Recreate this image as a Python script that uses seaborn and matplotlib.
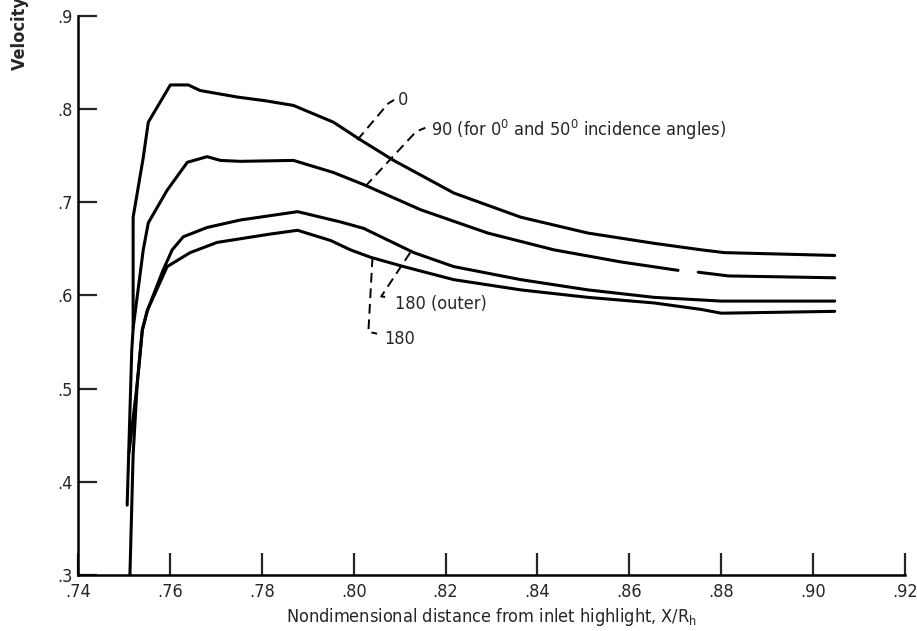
import matplotlib
matplotlib.use("Agg")
import matplotlib.pyplot as plt
from matplotlib import font_manager
import numpy as np
import pandas as pd
import seaborn as sns

# surface velocity ratio vs. X/Rh, one list pair per circumferential position
x_0 = [0.7507, 0.7517, 0.7520, 0.7520, 0.7542, 0.7553, 0.7601, 0.7640, 0.7666, 0.7747,
       0.7808, 0.7869, 0.7956, 0.8015, 0.8087, 0.8218, 0.8364, 0.8510, 0.8654, 0.8757,
       0.8807, 0.9047]
v_0 = [0.375, 0.541, 0.565, 0.684, 0.748, 0.786, 0.826, 0.826, 0.820, 0.813,
       0.809, 0.804, 0.786, 0.767, 0.745, 0.710, 0.684, 0.667, 0.656, 0.649,
       0.646, 0.643]

# nan marks the break in the printed 90 deg curve
x_90 = [0.7520, 0.7542, 0.7553, 0.7594, 0.7638, 0.7681, 0.7710, 0.7753, 0.7869, 0.7956,
        0.8022, 0.8146, 0.8292, 0.8436, 0.8582, 0.8706, np.nan, 0.8750, 0.8816, 0.9047]
v_90 = [0.565, 0.649, 0.678, 0.713, 0.743, 0.749, 0.745, 0.744, 0.745, 0.732,
        0.719, 0.692, 0.667, 0.649, 0.636, 0.627, np.nan, 0.625, 0.621, 0.619]

x_180o = [0.7511, 0.7529, 0.7540, 0.7551, 0.7585, 0.7605, 0.7629, 0.7681, 0.7753, 0.7878,
          0.7971, 0.8022, 0.8131, 0.8218, 0.8364, 0.8510, 0.8654, 0.8800, 0.9047]
v_180o = [0.431, 0.506, 0.563, 0.584, 0.627, 0.649, 0.663, 0.673, 0.681, 0.690,
          0.679, 0.672, 0.646, 0.631, 0.617, 0.606, 0.598, 0.594, 0.594]

x_180 = [0.7513, 0.7520, 0.7529, 0.7540, 0.7551, 0.7594, 0.7644, 0.7703, 0.7819, 0.7878,
         0.7950, 0.7993, 0.8037, 0.8109, 0.8218, 0.8364, 0.8510, 0.8654, 0.8757, 0.8800,
         0.9047]
v_180 = [0.300, 0.429, 0.506, 0.563, 0.584, 0.631, 0.646, 0.657, 0.666, 0.670,
         0.659, 0.649, 0.641, 0.631, 0.617, 0.606, 0.598, 0.592, 0.585, 0.581,
         0.583]

x_ticks = [0.74, 0.76, 0.78, 0.80, 0.82, 0.84, 0.86, 0.88, 0.90, 0.92]
x_ticklabels = [".74", ".76", ".78", ".80", ".82", ".84", ".86", ".88", ".90", ".92"]
y_ticks = [0.3, 0.4, 0.5, 0.6, 0.7, 0.8, 0.9]
y_ticklabels = [".3", ".4", ".5", ".6", ".7", ".8", ".9"]

# curve labels: text, leader path (data coords), text anchor
labels = ["0",
          r"90 (for 0$^\mathregular{0}$ and 50$^\mathregular{0}$ incidence angles)",
          "180 (outer)",
          "180"]
leaders = [[(0.8008, 0.767), (0.8075, 0.806), (0.8088, 0.810)],
           [(0.8025, 0.717), (0.8136, 0.776), (0.8156, 0.780)],
           [(0.8123, 0.646), (0.8060, 0.599), (0.8075, 0.598)],
           [(0.8041, 0.641), (0.8032, 0.561), (0.8051, 0.559)]]
label_pos = [(0.8097, 0.810), (0.8169, 0.7775), (0.8091, 0.5908), (0.8067, 0.5532)]


def build_frame():
    rows = []
    for name, xs, vs in [("0", x_0, v_0), ("90", x_90, v_90),
                         ("180 outer", x_180o, v_180o), ("180", x_180, v_180)]:
        seg = 0
        for xv, yv in zip(xs, vs):
            if np.isnan(xv):
                seg += 1
                continue
            rows.append({"x": xv, "v": yv, "line": "{}_{}".format(name, seg)})
    return pd.DataFrame(rows)


def main():
    sns.set_style("ticks")
    names = set(f.name for f in font_manager.fontManager.ttflist)
    narrow = [n for n in ["Liberation Sans Narrow", "Arial Narrow"] if n in names]
    plt.rcParams["font.family"] = narrow + ["DejaVu Sans"]
    plt.rcParams["font.stretch"] = "condensed"
    plt.rcParams["mathtext.default"] = "regular"
    print(sorted(names))

    df = build_frame()

    fig = plt.figure(figsize=(9.17, 6.31), dpi=100)
    ax = fig.add_axes([78 / 917, 1 - 575 / 631, (905 - 78) / 917, (575 - 16) / 631])

    sns.lineplot(data=df, x="x", y="v", units="line", estimator=None, sort=False,
                 color="black", linewidth=2.2, ax=ax, legend=False)

    for (txt, path, pos) in zip(labels, leaders, label_pos):
        px, py = zip(*path)
        ax.plot(px, py, color="black", linewidth=1.4, linestyle=(0, (5, 3)))
        ax.text(pos[0], pos[1], txt, fontsize=13, ha="left", va="center")

    ax.set_xlim(0.74, 0.92)
    ax.set_ylim(0.3, 0.9)
    ax.set_xticks(x_ticks)
    ax.set_xticklabels(x_ticklabels)
    ax.set_yticks(y_ticks)
    ax.set_yticklabels(y_ticklabels)
    ax.tick_params(axis="x", direction="in", length=16, width=1.6, pad=6, labelsize=13)
    ax.tick_params(axis="y", direction="in", length=14, width=1.6, pad=4, labelsize=13)

    sns.despine(ax=ax)
    for side in ["left", "bottom"]:
        ax.spines[side].set_linewidth(1.8)
        ax.spines[side].set_color("black")

    ax.set_xlabel(r"Nondimensional distance from inlet highlight, X/R$_\mathregular{h}$",
                  fontsize=13, labelpad=3)
    ax.set_ylabel("")
    fig.text(20 / 917, 1 - 70 / 631, "Velocity ratio", rotation=90, ha="center", va="bottom",
             fontsize=13, fontweight="bold")

    fig.savefig("out.png", dpi=100)


if __name__ == "__main__":
    main()
